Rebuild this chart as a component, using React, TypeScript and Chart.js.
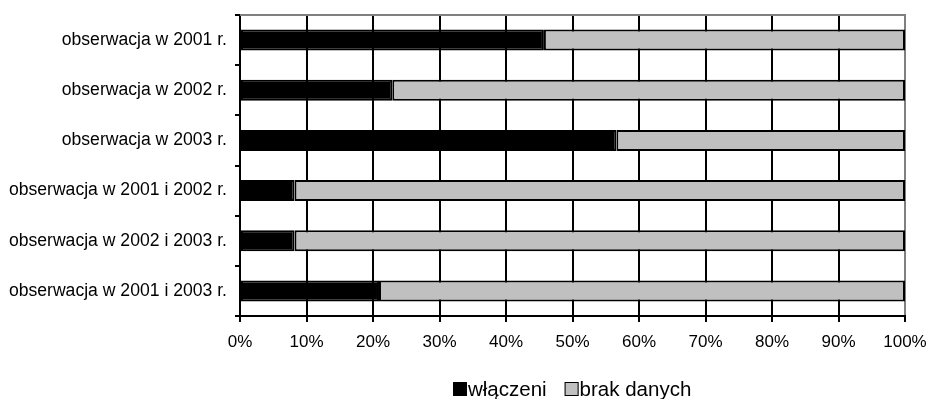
import { useEffect, useRef } from "react";
import { Chart, registerables } from "chart.js";

Chart.register(...registerables);

const categories = [
  "obserwacja w 2001 r.",
  "obserwacja w 2002 r.",
  "obserwacja w 2003 r.",
  "obserwacja w 2001 i 2002 r.",
  "obserwacja w 2002 i 2003 r.",
  "obserwacja w 2001 i 2003 r.",
];

const included = [45.7, 22.9, 56.6, 8.2, 8.2, 20.9];
const noData = [54.3, 77.1, 43.4, 91.8, 91.8, 79.1];

const seriesLabels = ["włączeni", "brak danych"];
const seriesColors = ["#000000", "#c0c0c0"];

const FONT = '"Liberation Sans", Arial, Helvetica, sans-serif';

// Gray frame on top of the plot and a legend centred under the plot area
const frameAndLegend = {
  id: "frameAndLegend",
  beforeDatasetsDraw(chart: any) {
    const { ctx, chartArea: a } = chart;
    ctx.save();
    ctx.strokeStyle = "#808080";
    ctx.lineWidth = 2;
    ctx.beginPath();
    ctx.moveTo(a.left, a.top);
    ctx.lineTo(a.right + 1, a.top);
    ctx.stroke();
    ctx.restore();
  },
  afterDraw(chart: any) {
    const { ctx, chartArea: a } = chart;
    const box = 14;
    const boxGap = 1;
    const itemGap = 18;
    ctx.save();
    ctx.font = `20.5px ${FONT}`;
    const items = chart.data.datasets.map((ds: any) => ({
      label: ds.label as string,
      color: ds.backgroundColor as string,
      w: ctx.measureText(ds.label).width,
    }));
    const total =
      items.reduce((s: number, it: any) => s + box + boxGap + it.w, 0) +
      itemGap * (items.length - 1);
    let x = Math.round((a.left + a.right) / 2 - total / 2);
    const top = Math.round(a.bottom + 66);
    ctx.textBaseline = "alphabetic";
    ctx.textAlign = "left";
    for (const it of items) {
      ctx.fillStyle = it.color;
      ctx.fillRect(x, top, box, box);
      ctx.strokeStyle = "#000";
      ctx.lineWidth = 1;
      ctx.strokeRect(x + 0.5, top + 0.5, box - 1, box - 1);
      ctx.fillStyle = "#000";
      ctx.fillText(it.label, x + box + boxGap, top + box);
      x += box + boxGap + it.w + itemGap;
    }
    ctx.restore();
  },
};

export default function App() {
  const canvasRef = useRef<HTMLCanvasElement | null>(null);

  useEffect(() => {
    if (!canvasRef.current) return;
    const barStyle = {
      borderColor: "#000",
      borderWidth: 2,
      borderSkipped: false as const,
      barPercentage: 0.42,
      categoryPercentage: 1,
    };
    const chart = new Chart(canvasRef.current, {
      type: "bar",
      data: {
        labels: categories,
        datasets: [
          { label: seriesLabels[0], data: included, backgroundColor: seriesColors[0], ...barStyle },
          { label: seriesLabels[1], data: noData, backgroundColor: seriesColors[1], ...barStyle },
        ],
      },
      options: {
        indexAxis: "y",
        responsive: false,
        animation: false,
        devicePixelRatio: 1,
        layout: { padding: { top: 15, right: 22, left: 0, bottom: 0 } },
        plugins: {
          legend: { display: false },
          tooltip: { enabled: false },
        },
        scales: {
          x: {
            stacked: true,
            min: 0,
            max: 100,
            ticks: {
              stepSize: 10,
              maxRotation: 0,
              autoSkip: false,
              padding: 10,
              color: "#000",
              font: { family: FONT, size: 17 },
              callback: (v: any) => `${v}%`,
            },
            grid: {
              color: (c: any) => (c.tick && c.tick.value === 100 ? "#808080" : "#000"),
              lineWidth: 2,
              tickLength: 6,
              tickColor: "#000",
              tickWidth: 2,
            },
            border: { color: "#000", width: 2 },
            afterFit: (s: any) => {
              s.height = 83;
              s.paddingLeft = 0;
              s.paddingRight = 0;
            },
          },
          y: {
            stacked: true,
            ticks: {
              padding: 8,
              color: "#000",
              font: { family: FONT, size: 17.6 },
            },
            grid: {
              drawOnChartArea: false,
              tickLength: 5,
              color: "#000",
              lineWidth: 2,
            },
            border: { color: "#000", width: 2 },
            afterFit: (s: any) => {
              s.width = 240;
              s.paddingTop = 0;
              s.paddingBottom = 0;
            },
          },
        },
      },
      plugins: [frameAndLegend],
    });
    return () => chart.destroy();
  }, []);

  return (
    <div style={{ position: "fixed", left: 0, top: 0, width: 927, height: 399, background: "#fff" }}>
      <canvas ref={canvasRef} width={927} height={399} />
    </div>
  );
}
